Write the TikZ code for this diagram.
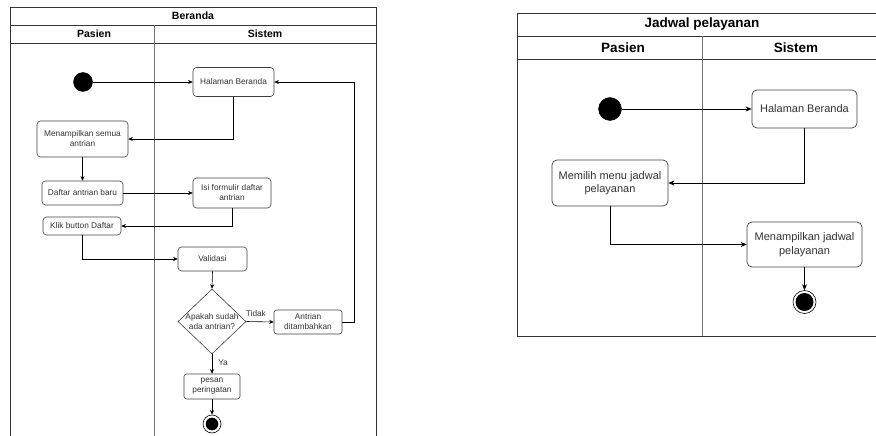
\documentclass[tikz,border=0pt]{standalone}
\usepackage{fontspec}
\setmainfont{Liberation Sans}
\usetikzlibrary{shapes.geometric,arrows.meta}
\begin{document}
\begin{tikzpicture}[x=1pt,y=-1pt,
  frameline/.style={draw=black!80,line width=0.8pt},
  laneline/.style={draw=black!55,line width=0.8pt},
  head/.style={font=\fontsize{10.5}{12}\selectfont\bfseries,inner sep=0},
  bighead/.style={font=\fontsize{13.5}{15}\selectfont\bfseries,inner sep=0},
  act/.style={draw=black!75,line width=0.6pt,rounded corners=3.5pt,fill=white,
    font=\fontsize{8.3}{10}\selectfont,text=black!80,align=center,inner sep=0},
  bigact/.style={draw=black!75,line width=0.7pt,rounded corners=5pt,fill=white,
    font=\fontsize{11}{13.5}\selectfont,text=black!80,align=center,inner sep=0},
  startdot/.style={circle,fill=black,draw=black,inner sep=0},
  enddot/.style={circle,draw=black,fill=white,line width=0.6pt,inner sep=0,
    path picture={\fill[black] (path picture bounding box.center) circle (#1);}},
  flow/.style={draw=black,line width=0.6pt,-{Stealth[length=4.5pt,width=4pt]}},
  bigflow/.style={draw=black,line width=0.7pt,-{Stealth[length=6pt,width=5pt]}},
  guard/.style={font=\fontsize{8.3}{10}\selectfont,text=black!80,inner sep=0}
]
\useasboundingbox (0,0) rectangle (876,436);
\fill[white] (0,0) rectangle (876,436);
\clip (0,0) rectangle (876,436);

% ---------- Beranda swimlanes ----------
\draw[frameline] (10,445) -- (10,7) -- (376,7) -- (376,445);
\draw[frameline] (10,25) -- (376,25);
\draw[frameline] (10,43) -- (376,43);
\draw[laneline] (154,25) -- (154,445);
\node[head] (titleL) at (193,16) {Beranda};
\node[head] (pasienL) at (94,34) {Pasien};
\node[head] (sistemL) at (265,34) {Sistem};

\node[startdot,minimum size=19pt] (startL) at (83,82) {};
\node[act,minimum width=81pt,minimum height=29pt] (halL) at (233.5,82) {Halaman Beranda};
\node[act,minimum width=91pt,minimum height=36pt] (menL) at (82.5,139) {Menampilkan semua\\antrian};
\node[act,minimum width=81pt,minimum height=24pt] (dafL) at (82.5,193) {Daftar antrian baru};
\node[act,minimum width=78pt,minimum height=30pt] (isiL) at (232,193) {Isi formulir daftar\\antrian};
\node[act,minimum width=78pt,minimum height=18pt] (klikL) at (82,226) {Klik button Daftar};
\node[act,minimum width=69pt,minimum height=24pt] (valL) at (212.5,259) {Validasi};
\node[diamond,draw=black!75,line width=0.6pt,fill=white,inner sep=0,
  minimum width=68pt,minimum height=65pt,
  label={[guard,align=center]center:Apakah sudah\\ada antrian?}] (decL) at (212,321.5) {};
\node[act,rounded corners=2.5pt,minimum width=68pt,minimum height=24pt] (antL) at (308,322) {Antrian\\ditambahkan};
\node[act,rounded corners=2.5pt,minimum width=56pt,minimum height=25pt] (pesL) at (212,386.5) {pesan\\peringatan};
\node[enddot=6.3pt,minimum size=18pt] (endL) at (212,424) {};

\draw[flow] (startL) -- (halL.west);
\draw[flow] (halL.south) |- (menL.east);
\draw[flow] (menL.south) -- (dafL.north);
\draw[flow] (dafL.east) -- (isiL.west);
\draw[flow] (isiL.south) |- (klikL.east);
\draw[flow] (klikL.south) |- (valL.west);
\draw[flow] (valL.south) -- (decL.north);
\draw[flow] (decL.east) -- node[guard,pos=0.35,above=5pt] {Tidak} (antL.west);
\draw[flow] (antL.east) -- ++(12,0) |- (halL.east);
\draw[flow] (decL.south) -- node[guard,pos=0.45,right=6pt] {Ya} (pesL.north);
\draw[flow] (pesL.south) -- (endL.north);

% ---------- Jadwal pelayanan swimlanes ----------
\draw[frameline] (890,13) -- (517,13) -- (517,336) -- (890,336);
\draw[frameline] (517,36) -- (890,36);
\draw[frameline] (517,59) -- (890,59);
\draw[laneline] (702,36) -- (702,336);
\node[bighead] (titleR) at (702,24.5) {Jadwal pelayanan};
\node[bighead] (pasienR) at (623,47.5) {Pasien};
\node[bighead] (sistemR) at (796,47.5) {Sistem};

\node[startdot,minimum size=23pt] (startR) at (610,109) {};
\node[bigact,minimum width=105pt,minimum height=38pt] (halR) at (804.5,109) {Halaman Beranda};
\node[bigact,minimum width=116pt,minimum height=46pt] (memR) at (610,183) {Memilih menu jadwal\\pelayanan};
\node[bigact,minimum width=115pt,minimum height=45pt] (menR) at (804.5,244.5) {Menampilkan jadwal\\pelayanan};
\node[enddot=9pt,minimum size=23pt] (endR) at (804.5,302) {};

\draw[bigflow] (startR) -- (halR.west);
\draw[bigflow] (halR.south) |- (memR.east);
\draw[bigflow] (memR.south) |- (menR.west);
\draw[bigflow] (menR.south) -- (endR.north);
\end{tikzpicture}
\end{document}
